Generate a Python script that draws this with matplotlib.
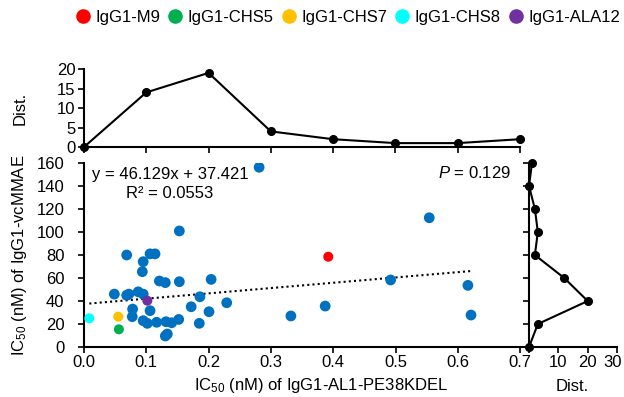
import matplotlib
matplotlib.use("Agg")
import matplotlib.pyplot as plt
import matplotlib.transforms as mtransforms
from matplotlib.lines import Line2D
import numpy as np

plt.rcParams['font.family'] = ['Liberation Sans', 'DejaVu Sans']
plt.rcParams['mathtext.fontset'] = 'custom'
plt.rcParams['mathtext.rm'] = 'Liberation Sans'
plt.rcParams['mathtext.it'] = 'Liberation Sans:italic'
plt.rcParams['font.size'] = 12

# IC50 (nM) pairs for the bulk of the clones
ic50_pe38 = [0.281, 0.153, 0.0685, 0.106, 0.114, 0.095, 0.0936, 0.121, 0.1305, 0.153,
             0.204, 0.0487, 0.0685, 0.072, 0.087, 0.095, 0.186, 0.229, 0.172, 0.078,
             0.106, 0.2006, 0.0775, 0.095, 0.1016, 0.1166, 0.1316, 0.1407, 0.152, 0.185,
             0.1305, 0.1337, 0.332, 0.554, 0.492, 0.616, 0.387, 0.621]
ic50_mmae = [156.3, 100.9, 80, 81, 81, 74.2, 65.5, 57.4, 56, 56.8,
             58.8, 46, 45, 46, 48, 46, 43.7, 38.5, 35, 33,
             31.6, 30.7, 26.4, 22.9, 20.6, 21.5, 22, 21.1, 24, 20.6,
             9.6, 11.3, 27, 112.4, 58.3, 53.6, 35.6, 27.8]

# highlighted variants
variants = ['IgG1-M9', 'IgG1-CHS5', 'IgG1-CHS7', 'IgG1-CHS8', 'IgG1-ALA12']
variant_colors = ['#FF0000', '#00B050', '#FFC000', '#00FFFF', '#7030A0']
variant_pe38 = [0.392, 0.056, 0.055, 0.0085, 0.1016]
variant_mmae = [78.5, 15.4, 26.4, 25.0, 40.3]

# marginal distributions
dist_x_bins = [0.0, 0.1, 0.2, 0.3, 0.4, 0.5, 0.6, 0.7]
dist_x_counts = [0, 14, 19, 4, 2, 1, 1, 2]
dist_y_bins = [0, 20, 40, 60, 80, 100, 120, 140, 160]
dist_y_counts = [0, 3, 20, 12, 2, 3, 2, 0, 1]

slope, intercept = 46.129, 37.421
r2 = 0.0553
p_value = 0.129

fig = plt.figure(figsize=(6.24, 3.97), dpi=100)
ax = fig.add_axes([0.1346, 0.1259, 0.7131, 0.4635])
ax_top = fig.add_axes([0.1346, 0.6297, 0.6987, 0.1965])
ax_right = fig.add_axes([0.8478, 0.1259, 0.1410, 0.4635])

for a in (ax, ax_top, ax_right):
    for s in ('top', 'right'):
        a.spines[s].set_visible(False)
    for s in ('left', 'bottom'):
        a.spines[s].set_linewidth(1.5)
    a.tick_params(direction='out', length=4, width=1.2, labelsize=12, pad=2)
ax.tick_params(axis='y', pad=10)

# main scatter
ax.scatter(ic50_pe38, ic50_mmae, s=60, color='#0070C0', edgecolors='none', zorder=3)
for x, y, c in zip(variant_pe38, variant_mmae, variant_colors):
    ax.scatter(x, y, s=52, color=c, edgecolors='none', zorder=4)

all_x = np.array(ic50_pe38 + variant_pe38)
xs = np.array([all_x.min(), all_x.max()])
ax.plot(xs, slope * xs + intercept, color='black', lw=1.5, ls=(0, (1, 1.5)), zorder=2)

ax.set_xlim(0, 0.714)
ax.set_ylim(0, 160)
ax.set_xticks(np.arange(0, 0.71, 0.1))
ax.set_xticklabels([f'{v:.1f}' for v in np.arange(0, 0.71, 0.1)])
ax.set_yticks(range(0, 161, 20))

ax.text(0.018, 0.935, f'y = {slope}x + {intercept}', transform=ax.transAxes,
        ha='left', va='center')
ax.text(0.193, 0.837, f'R² = {r2}', transform=ax.transAxes,
        ha='center', va='center')
ax.text(0.96, 0.946, f'$P$ = {p_value}', transform=ax.transAxes,
        ha='right', va='center')

# top distribution
ax_top.plot(dist_x_bins, dist_x_counts, color='black', lw=1.5, marker='o', ms=5.5,
            clip_on=False, zorder=3)
ax_top.set_xlim(0, 0.7)
ax_top.set_ylim(0, 20)
ax_top.set_yticks(range(0, 21, 5))
ax_top.set_xticks(np.arange(0, 0.71, 0.1))
ax_top.set_xticklabels([])

# right distribution
ax_right.plot(dist_y_counts, dist_y_bins, color='black', lw=1.5, marker='o', ms=5.5,
              clip_on=False, zorder=3)
ax_right.set_xlim(0, 30)
ax_right.set_ylim(0, 160)
ax_right.set_xticks([0, 10, 20, 30])
ax_right.set_xticklabels(['', '10', '20', '30'])
ax_right.set_yticks(range(0, 161, 20))
ax_right.set_yticklabels([])
# nudge the last label so it stays inside the canvas
last = ax_right.get_xticklabels()[-1]
last.set_transform(last.get_transform() +
                   mtransforms.ScaledTranslation(-4 / 100, 0, fig.dpi_scale_trans))

# axis titles
fig.text(0.032, 0.358, r'IC$_{50}$ (nM) of IgG1-vcMMAE', rotation=90,
         ha='center', va='center')
fig.text(0.032, 0.728, 'Dist.', rotation=90, ha='center', va='center')
fig.text(0.514, 0.03, r'IC$_{50}$ (nM) of IgG1-AL1-PE38KDEL',
         ha='center', va='center')
fig.text(0.917, 0.027, 'Dist.', ha='center', va='center')

# legend
handles = [Line2D([], [], marker='o', ls='', color=c, markersize=9.5) for c in variant_colors]
fig.legend(handles, variants, loc='upper left', bbox_to_anchor=(0.106, 1.0), ncol=5,
           frameon=False, handlelength=0.8, handletextpad=0.35, columnspacing=0.5,
           borderpad=0.4, borderaxespad=0.2)

fig.savefig('out.png', dpi=100)
